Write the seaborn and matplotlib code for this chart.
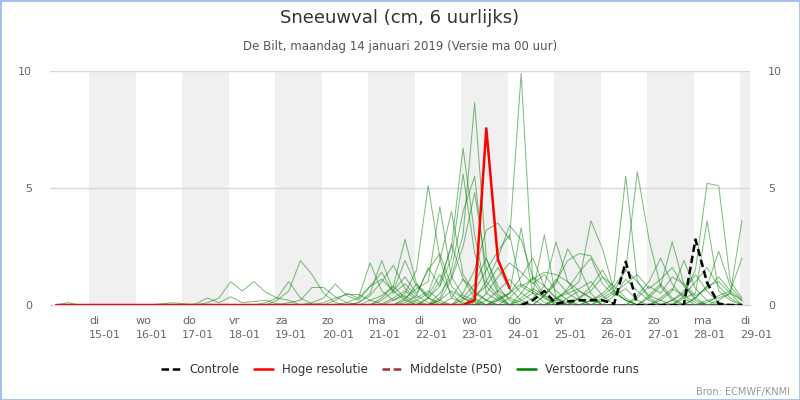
import matplotlib
matplotlib.use("Agg")
import matplotlib.pyplot as plt
import numpy as np
import pandas as pd
import seaborn as sns
from matplotlib.lines import Line2D
from matplotlib.patches import Rectangle

# time axis: days since 14-01 00:00, first value 14-01 07:00, every 6 hours
N_STEPS = 60
times = 7 / 24 + 0.25 * np.arange(N_STEPS)

weekdays = ["di", "wo", "do", "vr", "za", "zo", "ma",
            "di", "wo", "do", "vr", "za", "zo", "ma", "di"]
dates = ["15-01", "16-01", "17-01", "18-01", "19-01", "20-01", "21-01", "22-01",
         "23-01", "24-01", "25-01", "26-01", "27-01", "28-01", "29-01"]

# Controle run (non-zero part, starting at step 40)
controle_start = 40
controle = [0.0, 0.2, 0.6, 0.05, 0.15, 0.2, 0.2, 0.2, 0.05, 1.85, 0.0,
            0.0, 0.0, 0.0, 0.0, 2.8, 0.95, 0.05, 0.0, 0.0]

# Hoge resolutie (only runs to step 39)
hoge_resolutie = [0.0] * 36 + [0.2, 7.55, 1.95, 0.72]

# Middelste (P50)
middelste = [0.0] * N_STEPS

# Verstoorde runs: per run a list of (first step, values) pieces, zero elsewhere
verstoorde_runs = [
    [(0, [0.0, 0.1, 0.0]), (38, [0.2, 0.5, 0.9, 0.6, 0.3, 0.1]), (52, [0.3, 0.7, 0.4, 0.1])],
    [(9, [0.05, 0.1, 0.05]), (34, [0.3, 1.1, 0.6, 0.2]), (46, [0.2, 0.4, 0.8, 0.3])],
    [(13, [0.1, 0.3, 1.0, 0.6, 1.0, 0.55, 0.3, 0.2]), (30, [0.2, 0.9, 0.4, 1.3, 0.5]),
     (44, [0.3, 0.6, 0.3])],
    [(12, [0.05, 0.3, 0.1, 0.35, 0.1, 0.15, 0.2, 0.05]), (36, [0.4, 0.8, 1.6, 0.7, 0.2]),
     (55, [0.3, 0.8, 1.0, 0.5, 0.2])],
    [(19, [0.2, 0.6, 1.9, 1.3, 0.5, 0.1]), (33, [0.2, 0.6, 0.3]), (40, [0.5, 1.2, 0.8, 0.3])],
    [(18, [0.1, 0.3, 1.0, 0.3, 0.05]), (28, [0.3, 0.8, 0.3]), (48, [0.4, 1.1, 0.6, 0.2])],
    [(20, [0.1, 0.2, 0.75, 0.75, 0.35, 0.1]), (35, [0.3, 0.9, 2.0, 0.8, 0.2]), (57, [0.2, 0.5])],
    [(23, [0.1, 0.3, 0.45, 0.45, 0.2, 0.05, 0.3, 0.6, 0.2]), (43, [0.3, 0.5, 0.7, 1.0, 0.4])],
    [(25, [0.1, 0.3, 1.8, 0.6, 0.2, 0.4, 0.1]), (37, [0.2, 0.6, 1.1, 0.5, 0.2]),
     (51, [0.4, 0.9, 0.3])],
    [(26, [0.1, 0.5, 1.9, 0.6, 0.2]), (40, [0.3, 0.7, 0.4, 0.2]), (53, [0.2, 0.6, 1.3, 0.6, 0.1])],
    [(27, [0.2, 0.4, 0.8, 2.8, 0.9, 0.3, 0.1]), (45, [0.3, 0.8, 1.5, 0.6, 0.2])],
    [(26, [0.1, 0.4, 1.0, 1.7, 0.7, 0.3, 0.6, 0.2]), (38, [0.2, 0.5, 1.2, 2.0, 0.8, 0.3])],
    [(29, [0.2, 0.5, 1.5, 5.1, 2.0, 0.3, 0.1])],
    [(30, [0.3, 0.7, 1.0, 4.2, 1.2, 0.4, 0.2])],
    [(31, [0.2, 0.5, 1.9, 4.0, 1.3, 0.5, 0.2])],
    [(32, [0.3, 1.0, 2.5, 6.7, 3.0, 0.5, 0.2])],
    [(33, [0.5, 1.2, 3.0, 8.65, 2.0, 0.6, 0.3, 0.1])],
    [(33, [0.3, 1.5, 4.0, 5.5, 1.0, 0.4])],
    [(35, [0.5, 1.5, 3.2, 3.5, 2.8, 9.9, 1.0, 0.3])],
    [(38, [0.3, 0.5, 3.3, 0.5, 0.1])],
    [(40, [0.2, 0.5, 3.0, 0.3, 0.1])],
    [(41, [0.3, 0.8, 2.7, 1.0, 0.3])],
    [(42, [0.4, 0.9, 2.4, 1.6, 0.5])],
    [(43, [0.3, 0.6, 1.0, 3.6, 2.4, 0.6, 0.2])],
    [(46, [0.2, 0.5, 1.0, 5.5, 1.0, 0.3])],
    [(47, [0.3, 0.6, 1.5, 5.7, 2.8, 0.8, 0.2])],
    [(50, [0.4, 1.0, 2.0, 0.9, 0.3])],
    [(51, [0.3, 0.8, 2.7, 0.9, 0.2])],
    [(52, [0.2, 0.6, 1.9, 0.7, 0.2])],
    [(53, [0.2, 0.5, 1.5, 5.2, 5.1, 1.0, 0.3])],
    [(54, [0.3, 0.5, 3.6, 0.6, 0.2])],
    [(55, [0.3, 0.8, 2.3, 0.8, 0.2])],
    [(56, [0.2, 0.3, 0.5, 3.6])],
    [(56, [0.1, 0.4, 0.6, 2.0])],
    [(54, [0.4, 1.0, 1.6, 0.8, 0.3])],
    [(28, [0.2, 0.6, 1.2, 0.5, 1.5, 2.2, 0.8, 0.3, 0.1])],
    [(30, [0.1, 0.4, 1.6, 0.8, 2.6, 1.1, 0.3])],
    [(32, [0.3, 0.8, 2.0, 5.6, 2.2, 0.8, 0.3])],
    [(33, [0.2, 1.1, 2.5, 4.8, 1.6, 0.5])],
    [(36, [0.3, 1.0, 2.0, 3.4, 2.8, 1.2, 0.4])],
    [(37, [0.5, 1.2, 1.8, 1.4, 0.9, 1.3, 0.6, 0.2])],
    [(39, [0.3, 0.8, 1.1, 1.4, 1.3, 1.0, 0.6, 0.3])],
    [(42, [0.4, 1.0, 1.9, 2.2, 2.1, 1.2, 0.5, 0.2])],
    [(43, [0.2, 0.7, 1.4, 2.0, 0.9, 0.4, 0.7, 0.2])],
    [(45, [0.3, 0.6, 1.2, 0.8, 1.5, 1.0, 0.4, 0.2])],
    [(47, [0.2, 0.5, 0.9, 1.3, 0.7, 1.1, 1.6, 0.8, 0.3])],
    [(50, [0.3, 0.8, 0.5, 1.2, 0.9, 0.4, 0.7, 1.2, 0.6, 0.2])],
    [(22, [0.1, 0.3, 0.9, 0.4, 0.2, 0.8, 1.4, 0.5, 0.9, 0.4, 0.1])],
    [(24, [0.2, 0.5, 0.3, 0.8, 1.1, 0.6, 1.9, 0.8, 0.3])],
    [(35, [0.2, 0.6, 1.5, 2.3, 3.0, 0.8, 0.5, 0.4, 1.1, 0.5, 0.2])],
]


def expand(pieces):
    arr = np.zeros(N_STEPS)
    for start, vals in pieces:
        arr[start:start + len(vals)] = vals
    return arr


rows = []
for run, pieces in enumerate(verstoorde_runs):
    for t, v in zip(times, expand(pieces)):
        rows.append({"run": run, "t": t, "v": v})
runs_df = pd.DataFrame(rows)

sns.set_style("white")
plt.rcParams["font.family"] = ["DejaVu Sans"]

fig = plt.figure(figsize=(8, 4), dpi=100)
ax = fig.add_axes([0.0625, 0.2375, 0.875, 0.585])

xmin, xmax = 0.155, 15.215
# alternating day bands
for d in range(1, 16, 2):
    ax.axvspan(d, min(d + 1, xmax), color="#f0f0f0", lw=0, zorder=0)
for yv in (5, 10):
    ax.axhline(yv, color="#d8d8d8", lw=1, zorder=0.5)

sns.lineplot(data=runs_df, x="t", y="v", units="run", estimator=None,
             color="#008000", alpha=0.5, lw=0.75, ax=ax, legend=False, zorder=2)
sns.lineplot(x=times, y=middelste, color="#a52a2a", lw=1.8, ls=(0, (3, 1.5)),
             ax=ax, zorder=3)
sns.lineplot(x=times[:len(hoge_resolutie)], y=hoge_resolutie, color="#ff0000",
             lw=1.8, ax=ax, zorder=4)
ctrl_t = times[controle_start:controle_start + len(controle)]
sns.lineplot(x=ctrl_t, y=controle, color="black", lw=1.8, ls=(0, (3, 1.5)),
             ax=ax, zorder=5)

ax.set_xlim(xmin, xmax)
ax.set_ylim(0, 10)
ax.set_xlabel("")
ax.set_ylabel("")
for s in ("top", "left", "right"):
    ax.spines[s].set_visible(False)
ax.spines["bottom"].set_color("#ccd6eb")
ax.spines["bottom"].set_linewidth(1)

ax.set_xticks(range(1, 16))
ax.set_xticklabels([f"{w}\n{d}" for w, d in zip(weekdays, dates)],
                   ha="left", fontsize=8, color="#666666", linespacing=1.5)
ax.tick_params(axis="x", length=6, color="#ccd6eb", width=1, pad=2)
ax.set_yticks([0, 5, 10])
ax.set_yticklabels(["0", "5", "10"])
ax.tick_params(axis="y", length=0, labelsize=8, labelcolor="#666666",
               labelleft=True, labelright=True, pad=13)

fig.text(0.5, 0.955, "Sneeuwval (cm, 6 uurlijks)", ha="center", va="center",
         fontsize=13, color="#333333")
fig.text(0.5, 0.883, "De Bilt, maandag 14 januari 2019 (Versie ma 00 uur)",
         ha="center", va="center", fontsize=8.5, color="#555555")
fig.text(0.988, 0.02, "Bron: ECMWF/KNMI", ha="right", va="center",
         fontsize=7, color="#999999")

handles = [
    Line2D([], [], color="black", lw=1.8, ls=(0, (3, 1.5))),
    Line2D([], [], color="#ff0000", lw=1.8),
    Line2D([], [], color="#a52a2a", lw=1.8, ls=(0, (3, 1.5))),
    Line2D([], [], color="#008000", lw=1.8),
]
labels = ["Controle", "Hoge resolutie", "Middelste (P50)", "Verstoorde runs"]
fig.legend(handles, labels, loc="center", bbox_to_anchor=(0.5, 0.077), ncol=4,
           frameon=False, fontsize=8.5, handlelength=1.6, columnspacing=1.2,
           handletextpad=0.8, labelcolor="#333333")

fig.patches.append(Rectangle((0, 0), 1, 1, transform=fig.transFigure,
                             fill=False, edgecolor="#9fc0ec", lw=2))

fig.savefig("out.png", dpi=100)
